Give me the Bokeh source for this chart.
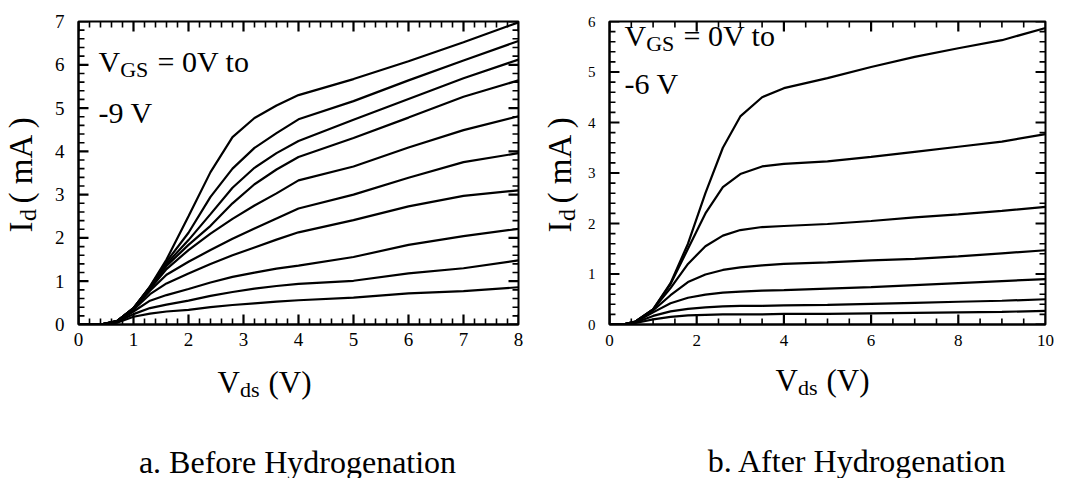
import math
from bokeh.plotting import figure
from bokeh.layouts import row, column
from bokeh.models import Range1d, LinearAxis, FixedTicker, Label
from bokeh.embed import file_html
from bokeh.resources import INLINE

# ---------------- data ----------------
# Panel a: Before Hydrogenation, Vgs = 0 V ... -9 V
a_vds = [0, 0.4, 0.7, 1.0, 1.3, 1.6, 2.0, 2.4, 2.8, 3.2, 3.6, 4.0, 5.0, 6.0, 7.0, 8.0]
a_vgs0 = [0, 0, 0.08, 0.38, 0.88, 1.50, 2.50, 3.52, 4.33, 4.77, 5.06, 5.30, 5.67, 6.08, 6.52, 6.98]
a_vgs1 = [0, 0, 0.08, 0.38, 0.87, 1.45, 2.12, 2.95, 3.60, 4.08, 4.42, 4.74, 5.16, 5.64, 6.10, 6.55]
a_vgs2 = [0, 0, 0.08, 0.38, 0.86, 1.40, 1.95, 2.55, 3.16, 3.62, 3.96, 4.24, 4.73, 5.21, 5.69, 6.12]
a_vgs3 = [0, 0, 0.08, 0.37, 0.84, 1.35, 1.84, 2.28, 2.80, 3.24, 3.58, 3.87, 4.31, 4.78, 5.26, 5.64]
a_vgs4 = [0, 0, 0.08, 0.37, 0.82, 1.28, 1.72, 2.10, 2.44, 2.75, 3.03, 3.33, 3.65, 4.09, 4.49, 4.81]
a_vgs5 = [0, 0, 0.07, 0.36, 0.78, 1.15, 1.45, 1.72, 1.98, 2.22, 2.45, 2.68, 3.00, 3.39, 3.75, 3.96]
a_vgs6 = [0, 0, 0.07, 0.34, 0.70, 0.95, 1.18, 1.40, 1.60, 1.78, 1.96, 2.13, 2.41, 2.73, 2.97, 3.10]
a_vgs7 = [0, 0, 0.06, 0.30, 0.55, 0.68, 0.82, 0.97, 1.10, 1.20, 1.29, 1.36, 1.56, 1.84, 2.04, 2.21]
a_vgs8 = [0, 0, 0.05, 0.24, 0.38, 0.46, 0.55, 0.66, 0.75, 0.83, 0.89, 0.94, 1.01, 1.18, 1.30, 1.48]
a_vgs9 = [0, 0, 0.04, 0.18, 0.25, 0.30, 0.34, 0.40, 0.45, 0.49, 0.53, 0.56, 0.62, 0.72, 0.77, 0.86]

# Panel b: After Hydrogenation, Vgs = 0 V ... -6 V
b_vds = [0, 0.3, 0.6, 1.0, 1.4, 1.8, 2.2, 2.6, 3.0, 3.5, 4.0, 5.0, 6.0, 7.0, 8.0, 9.0, 10.0]
b_vgs0 = [0, 0, 0.06, 0.30, 0.82, 1.60, 2.60, 3.50, 4.12, 4.50, 4.68, 4.88, 5.10, 5.30, 5.47, 5.63, 5.87]
b_vgs1 = [0, 0, 0.06, 0.30, 0.80, 1.50, 2.20, 2.72, 2.98, 3.13, 3.18, 3.23, 3.32, 3.42, 3.52, 3.62, 3.77]
b_vgs2 = [0, 0, 0.06, 0.30, 0.72, 1.20, 1.55, 1.76, 1.87, 1.93, 1.95, 1.99, 2.05, 2.12, 2.18, 2.25, 2.33]
b_vgs3 = [0, 0, 0.06, 0.28, 0.58, 0.84, 0.99, 1.08, 1.13, 1.17, 1.20, 1.23, 1.27, 1.30, 1.35, 1.41, 1.47]
b_vgs4 = [0, 0, 0.05, 0.24, 0.42, 0.53, 0.59, 0.63, 0.65, 0.67, 0.68, 0.71, 0.74, 0.78, 0.82, 0.86, 0.90]
b_vgs5 = [0, 0, 0.04, 0.17, 0.26, 0.31, 0.34, 0.36, 0.37, 0.37, 0.38, 0.39, 0.41, 0.43, 0.45, 0.47, 0.50]
b_vgs6 = [0, 0, 0.03, 0.10, 0.15, 0.18, 0.19, 0.20, 0.20, 0.20, 0.21, 0.21, 0.22, 0.23, 0.24, 0.25, 0.27]

a_curves = [a_vgs0, a_vgs1, a_vgs2, a_vgs3, a_vgs4, a_vgs5, a_vgs6, a_vgs7, a_vgs8, a_vgs9]
b_curves = [b_vgs0, b_vgs1, b_vgs2, b_vgs3, b_vgs4, b_vgs5, b_vgs6]

# tick labels
a_xticks = [0, 1, 2, 3, 4, 5, 6, 7, 8]
a_yticks = [0, 1, 2, 3, 4, 5, 6, 7]
b_xticks = [0, 2, 4, 6, 8, 10]
b_yticks = [0, 1, 2, 3, 4, 5, 6]

a_caption = "a. Before Hydrogenation"
b_caption = "b. After Hydrogenation"

SERIF = "Liberation Serif"
DY = 8  # baseline correction for Label text (px)
NAN = float("nan")


def minor_of(ticks, n):
    out = []
    for t0, t1 in zip(ticks[:-1], ticks[1:]):
        step = (t1 - t0) / n
        out += [t0 + step * k for k in range(1, n)]
    return out


def make_panel(width, height, bl, br, bt, bb, xticks, yticks,
               xfont, yfont, xstand, ystand):
    xr = (xticks[0], xticks[-1])
    yr = (yticks[0], yticks[-1])
    p = figure(width=width, height=height, x_range=Range1d(*xr), y_range=Range1d(*yr),
               output_backend="svg", toolbar_location=None,
               x_axis_type=None, y_axis_type=None,
               min_border_left=bl, min_border_right=br, min_border_top=bt, min_border_bottom=bb)
    p.outline_line_color = "black"
    p.outline_line_width = 2
    p.background_fill_color = "white"
    p.border_fill_color = "white"
    for loc in ["below", "left"]:
        isx = loc == "below"
        ax = LinearAxis(ticker=FixedTicker(ticks=xticks if isx else yticks))
        ax.axis_line_width = 2
        ax.major_tick_in = 0
        ax.major_tick_out = 0
        ax.minor_tick_in = 0
        ax.minor_tick_out = 0
        ax.major_label_text_font = SERIF
        ax.major_label_text_font_size = xfont if isx else yfont
        ax.major_label_text_color = "black"
        ax.major_label_standoff = xstand if isx else ystand
        p.add_layout(ax, loc)
    return p


def add_ticks(p, width, height, bl, br, bt, bb, xticks, yticks, xn, yn):
    # inward ticks on all four sides, lengths given in pixels
    xr = (xticks[0], xticks[-1])
    yr = (yticks[0], yticks[-1])
    kx = (xr[1] - xr[0]) / (width - bl - br)
    ky = (yr[1] - yr[0]) / (height - bt - bb)
    groups = [(xticks, yticks, 10, 2.2), (minor_of(xticks, xn), minor_of(yticks, yn), 6, 1.6)]
    for xv, yv, ln, lw in groups:
        xs, ys = [], []
        for v in xv:
            xs += [v, v, NAN, v, v, NAN]
            ys += [yr[0], yr[0] + ln * ky, NAN, yr[1], yr[1] - ln * ky, NAN]
        for v in yv:
            xs += [xr[0], xr[0] + ln * kx, NAN, xr[1], xr[1] - ln * kx, NAN]
            ys += [v, v, NAN, v, v, NAN]
        p.line(xs, ys, line_color="black", line_width=lw)


def text_fig(width, height):
    f = figure(width=width, height=height, x_range=Range1d(0, width), y_range=Range1d(0, height),
               output_backend="svg", toolbar_location=None, x_axis_type=None, y_axis_type=None,
               min_border_left=0, min_border_right=0, min_border_top=0, min_border_bottom=0)
    f.outline_line_color = None
    f.background_fill_color = "white"
    f.border_fill_color = "white"
    return f


def lab(p, x, y, s, size, angle=0.0, align="left"):
    p.add_layout(Label(x=x, y=y, x_units="screen", y_units="screen", text=s,
                       text_font=SERIF, text_font_size=f"{size}px", angle=angle,
                       text_align=align, text_baseline="alphabetic", text_color="black"))


def ylabel(f, x, y, main=33, sub=24):
    r = math.pi / 2
    x = x - DY
    lab(f, x, y, "I", main, angle=r)
    lab(f, x + 7, y + 11.5, "d", sub, angle=r)
    lab(f, x, y + 29, "( mA )", main, angle=r)


def xlabel(f, x, y, main=31, sub=22):
    y = y + DY
    lab(f, x, y, "V", main)
    lab(f, x + 22.5, y - 7, "ds", sub)
    lab(f, x + 51, y, "(V)", main)


def annotation(p, x, y, y2, last):
    lab(p, x, y, "V", 30)
    lab(p, x + 21.7, y - 8, "GS", 22)
    lab(p, x + 59, y, "= 0V to", 30)
    lab(p, x, y2, last, 30)


TOP_H = 355
BOT_H = 478 - TOP_H
FT, FB = 21, 31          # shared frame top / bottom borders
FRAME_BOTTOM = TOP_H - FB

# ---------------- panel a ----------------
ya = text_fig(44, TOP_H)
ylabel(ya, 28, FRAME_BOTTOM - 232)
A_GEOM = (496, TOP_H, 34, 22, FT, FB)
pa = make_panel(*A_GEOM, a_xticks, a_yticks, "19px", "19px", 8, 14)
for c in a_curves:
    pa.line(a_vds, c, line_color="black", line_width=2.2)
add_ticks(pa, *A_GEOM, a_xticks, a_yticks, 5, 5)
annotation(pa, 20, FRAME_BOTTOM - 72 + 11, FRAME_BOTTOM - 120 + 8, "-9 V")
ca = text_fig(540, BOT_H)
xlabel(ca, 217, 478 - 390)
lab(ca, 297, 478 - 472 + DY + 3, a_caption, 32, align="center")

# ---------------- panel b ----------------
yb = text_fig(44, TOP_H)
ylabel(yb, 27, FRAME_BOTTOM - 232)
B_GEOM = (490, TOP_H, 23, 29, FT, FB)
pb = make_panel(*B_GEOM, b_xticks, b_yticks, "17px", "15px", 10, 14)
for c in b_curves:
    pb.line(b_vds, c, line_color="black", line_width=2.2)
add_ticks(pb, *B_GEOM, b_xticks, b_yticks, 4, 5)
annotation(pb, 15, FRAME_BOTTOM - 47 + 12, FRAME_BOTTOM - 93 + 10, "-6 V")
cb = text_fig(534, BOT_H)
xlabel(cb, 235, 478 - 388)
lab(cb, 317, 478 - 470 + DY + 2, b_caption, 32, align="center")

layout = column(row(ya, pa, yb, pb), row(ca, cb))
open("out.html", "w").write(file_html(layout, INLINE))
